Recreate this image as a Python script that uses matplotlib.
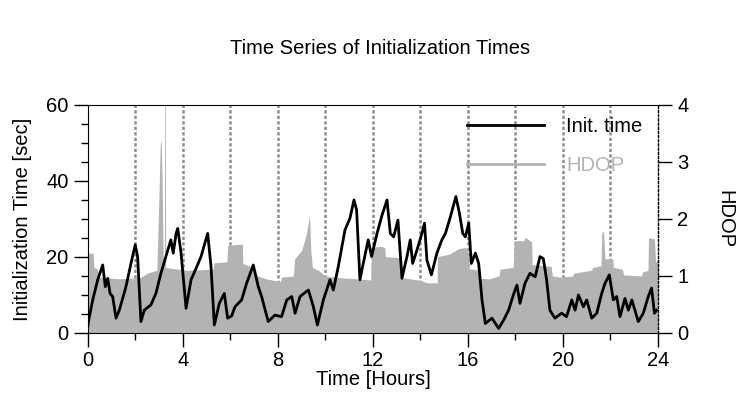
import numpy as np
import matplotlib.pyplot as plt
from matplotlib.lines import Line2D
from matplotlib.ticker import MultipleLocator

plt.rcParams['font.family'] = ['Liberation Sans', 'DejaVu Sans']
plt.rcParams['font.size'] = 14.5

# initialization time [sec] vs time [hours]
t_init = [0.0, 0.03, 0.2, 0.41, 0.62, 0.73, 0.83, 0.93, 1.04, 1.18, 1.32, 1.6, 1.81, 1.99,
          2.09, 2.23, 2.37, 2.65, 2.86, 3.07, 3.28, 3.49, 3.59, 3.71, 3.78, 3.92, 4.13,
          4.34, 4.55, 4.76, 5.04, 5.18, 5.32, 5.53, 5.74, 5.88, 6.05, 6.19, 6.47, 6.68,
          6.96, 7.17, 7.31, 7.59, 7.87, 8.15, 8.37, 8.58, 8.72, 8.93, 9.09, 9.28, 9.49,
          9.66, 9.91, 10.19, 10.33, 10.54, 10.82, 11.03, 11.2, 11.31, 11.45, 11.59, 11.8,
          11.94, 12.17, 12.38, 12.59, 12.73, 12.87, 13.05, 13.22, 13.43, 13.57, 13.67,
          13.85, 14.06, 14.17, 14.27, 14.46, 14.69, 14.9, 15.05, 15.26, 15.49, 15.64,
          15.78, 15.89, 16.03, 16.14, 16.31, 16.45, 16.59, 16.73, 17.01, 17.29, 17.5,
          17.71, 17.93, 18.06, 18.19, 18.4, 18.61, 18.83, 19.03, 19.17, 19.31, 19.45,
          19.66, 19.94, 20.15, 20.37, 20.51, 20.65, 20.86, 21.0, 21.21, 21.42, 21.63,
          21.77, 21.95, 22.12, 22.26, 22.4, 22.61, 22.75, 22.9, 23.17, 23.38, 23.59,
          23.73, 23.85, 23.94]
init_time = [2.0, 3.4, 8.7, 14.0, 17.9, 12.2, 14.4, 10.4, 9.6, 3.9, 6.0, 12.2, 18.3, 23.2,
             20.1, 3.0, 6.0, 7.4, 10.4, 15.7, 20.1, 24.5, 21.0, 26.2, 27.5, 21.0, 6.5,
             14.0, 17.0, 20.1, 26.2, 17.5, 2.1, 7.8, 10.4, 3.9, 4.5, 6.9, 8.7, 13.1,
             17.9, 12.2, 9.6, 3.0, 4.7, 4.3, 8.7, 9.6, 5.2, 9.6, 10.4, 11.3, 6.9,
             2.1, 8.7, 14.0, 11.3, 17.5, 27.1, 30.2, 35.0, 32.4, 14.0, 18.3, 24.5,
             20.1, 26.2, 31.0, 35.0, 26.2, 25.3, 29.7, 14.4, 20.1, 24.5, 18.3,
             21.8, 26.2, 28.9, 19.2, 15.3, 21.0, 24.5, 26.2, 30.6, 35.9, 31.5,
             26.2, 25.3, 28.9, 18.3, 21.0, 18.3, 8.7, 2.5, 3.9, 1.2, 3.4,
             6.0, 10.4, 12.6, 7.8, 13.1, 15.7, 14.8, 20.1, 19.6, 14.0, 6.0,
             3.9, 5.2, 4.3, 8.7, 6.0, 10.0, 6.9, 8.7, 3.9, 5.2, 10.4,
             13.1, 15.3, 8.7, 9.6, 4.3, 9.1, 6.0, 8.7, 3.0, 5.2, 9.6,
             11.8, 5.2, 6.0]

# HDOP vs time [hours]
t_hdop = [0.0, 0.22, 0.25, 0.4, 0.45, 1.3, 2.2, 2.5, 2.9, 2.99, 3.04, 3.08, 3.12, 3.17,
          3.22, 3.23, 3.26, 3.27, 3.8, 4.13, 5.27, 5.3, 5.85, 5.88, 6.5, 6.52, 6.95,
          7.0, 7.5, 8.1, 8.15, 8.65, 8.7, 8.9, 9.0, 9.2, 9.33, 9.38, 9.45, 9.7, 10.0,
          10.6, 11.3, 11.9, 11.93, 12.3, 12.5, 12.52, 13.2, 13.23, 13.9, 14.3, 14.7,
          14.72, 15.2, 15.6, 15.9, 16.0, 16.05, 16.45, 16.5, 16.9, 17.3, 17.35, 17.9,
          17.95, 18.35, 18.4, 18.68, 18.7, 19.5, 19.55, 19.9, 20.4, 20.45, 21.2, 21.25,
          21.6, 21.63, 21.7, 21.77, 22.1, 22.12, 22.5, 22.55, 23.3, 23.35, 23.58, 23.6,
          23.85, 23.9, 24.0]
hdop = [1.40, 1.40, 1.15, 1.12, 0.98, 0.95, 0.97, 1.05, 1.10, 2.42, 3.3, 3.39, 2.7, 1.25,
        1.25, 4.2, 4.2, 1.15, 1.12, 1.10, 1.12, 1.23, 1.25, 1.54, 1.56, 1.22, 1.15,
        1.02, 0.95, 0.90, 0.98, 1.0, 1.3, 1.4, 1.45, 1.75, 2.07, 1.45, 1.15, 1.1, 1.0,
        0.97, 0.95, 0.93, 1.5, 1.52, 1.5, 1.34, 1.32, 0.97, 0.93, 0.88, 0.88,
        1.34, 1.38, 1.48, 1.5, 1.43, 1.13, 1.1, 0.96, 0.95, 1.0, 1.12, 1.15,
        1.62, 1.62, 1.68, 1.6, 1.2, 1.17, 1.0, 0.98, 1.0, 1.05, 1.1, 1.15,
        1.18, 1.75, 1.8, 1.3, 1.3, 1.15, 1.12, 1.02, 1.0, 1.07, 1.1, 1.67,
        1.65, 1.25, 1.28]

grid_hours = [2, 4, 6, 8, 10, 12, 14, 16, 18, 20, 22]

fill_gray = '#b3b3b3'

fig = plt.figure(figsize=(7.43, 4.05), dpi=100)
ax1 = fig.add_axes([0.1184, 0.1778, 0.7672, 0.563])
ax2 = ax1.twinx()

for h in grid_hours:
    ax2.axvline(h, color='#8f8f8f', lw=1.8, ls=(0, (1.3, 0.9)), zorder=0)
ax2.fill_between(t_hdop, 0, hdop, color=fill_gray, lw=0, zorder=1)
ax2.set_ylim(0, 4)
ax2.set_yticks([0, 1, 2, 3, 4])
ax2.set_ylabel('HDOP', rotation=270, labelpad=33)

ax1.set_zorder(ax2.get_zorder() + 1)
ax1.patch.set_visible(False)
line_init, = ax1.plot(t_init, init_time, color='black', lw=2)
ax1.set_xlim(0, 24)
ax1.set_ylim(0, 60)
ax1.xaxis.set_major_locator(MultipleLocator(4))
ax1.xaxis.set_minor_locator(MultipleLocator(2))
ax1.yaxis.set_major_locator(MultipleLocator(20))
ax1.yaxis.set_minor_locator(MultipleLocator(5))
ax1.set_xlabel('Time [Hours]', labelpad=0)
ax1.set_ylabel('Initialization Time [sec]', labelpad=10)

for ax in (ax1, ax2):
    ax.tick_params(which='major', length=10, width=1, direction='out', pad=4)
    ax.tick_params(which='minor', length=5, width=1, direction='out')
ax1.tick_params(axis='x', which='major', pad=3)

ax1.spines['right'].set_visible(False)
for s in ('left', 'top', 'bottom'):
    ax2.spines[s].set_visible(False)
ax2.spines['right'].set_linestyle((0, (1.5, 1.5)))
ax2.spines['right'].set_linewidth(1)

hdop_handle = Line2D([], [], color=fill_gray, lw=2)
leg = ax1.legend([line_init, hdop_handle], ['Init. time', 'HDOP'], loc='upper left',
                 bbox_to_anchor=(0.648, 0.99), frameon=False, handlelength=3.8,
                 handletextpad=1.1, labelspacing=1.0, borderpad=0)
leg.get_texts()[1].set_color(fill_gray)

fig.text(0.512, 0.88, 'Time Series of Initialization Times', ha='center', va='center')

fig.savefig('out.png', dpi=100)
